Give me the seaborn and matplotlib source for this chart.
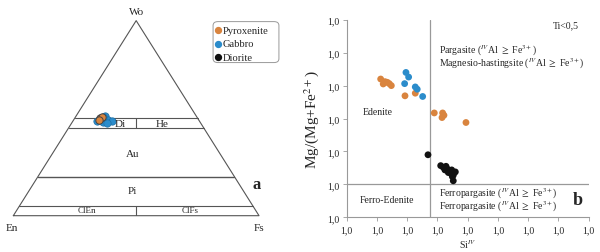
import numpy as np
import pandas as pd
import seaborn as sns
import matplotlib.pyplot as plt
from matplotlib.ticker import FixedLocator, FuncFormatter
from matplotlib.patches import FancyBboxPatch

sns.set_style("white")
plt.rcParams['font.family'] = ['Liberation Serif', 'DejaVu Serif']
plt.rcParams['mathtext.fontset'] = 'stix'

# ---- colours
rock_colors = {'Pyroxenite': '#D9843E', 'Gabbro': '#2B8CCB', 'Diorite': '#111111'}

# ---- (a) pyroxene quadrilateral data, Wo and Fs fractions
pyx_rock = ['Pyroxenite', 'Pyroxenite', 'Pyroxenite',
            'Gabbro', 'Gabbro', 'Gabbro', 'Gabbro', 'Gabbro', 'Gabbro', 'Gabbro']
pyx_wo = [0.500, 0.505, 0.493, 0.487, 0.513, 0.492, 0.484, 0.479, 0.475, 0.506]
pyx_fs = [0.103, 0.107, 0.102, 0.098, 0.116, 0.140, 0.158, 0.124, 0.142, 0.112]

# ---- (b) amphibole data
amp_rock = (['Pyroxenite'] * 13 + ['Gabbro'] * 6 + ['Diorite'] * 15)
amp_si = [5.781, 5.802, 5.817, 5.836, 5.852, 5.869, 5.982, 6.067, 6.224, 6.293, 6.304, 6.288, 6.486,
          5.990, 6.012, 5.979, 6.067, 6.083, 6.128,
          6.172, 6.277, 6.298, 6.321, 6.331, 6.348, 6.368, 6.389, 6.381, 6.360, 6.340, 6.381,
          6.398, 6.312, 6.373]
amp_mg = [0.820, 0.805, 0.812, 0.810, 0.806, 0.800, 0.769, 0.777, 0.717, 0.717, 0.710, 0.703, 0.688,
          0.840, 0.826, 0.806, 0.796, 0.789, 0.767,
          0.590, 0.557, 0.552, 0.555, 0.547, 0.541, 0.544, 0.536, 0.528, 0.534, 0.536, 0.511,
          0.538, 0.544, 0.524]
si_ticks = [5.5, 5.75, 6.0, 6.25, 6.5, 6.75, 7.0, 7.25, 7.5]
mg_ticks = [0.4, 0.5, 0.6, 0.7, 0.8, 0.9, 1.0]
si_split = 6.19
mg_split = 0.5


def tern(wo, fs):
    wo = np.asarray(wo)
    fs = np.asarray(fs)
    return fs + wo / 2, wo


fig = plt.figure(figsize=(6, 2.53), dpi=100)

# ===================== panel a =====================
axa = fig.add_axes([0.0222, 0.1435, 0.4095, 0.771])
axa.set_xlim(0, 1)
axa.set_ylim(0, 1)
axa.axis('off')
lc = '#555555'
axa.plot([0, 0.5, 1, 0], [0, 1, 0, 0], color=lc, lw=0.8, clip_on=False)
for wo in [0.5, 0.45, 0.2, 0.05]:
    x0, _ = tern(wo, 0)
    x1, _ = tern(wo, 1 - wo)
    axa.plot([x0, x1], [wo, wo], color=lc, lw=0.8 if wo != 0.2 else 1.0)
axa.plot([0.5, 0.5], [0.45, 0.5], color=lc, lw=0.8)
axa.plot([0.5, 0.5], [0.0, 0.05], color=lc, lw=0.8)

px, py = tern(pyx_wo, pyx_fs)
df_a = pd.DataFrame({'x': px, 'y': py, 'rock': pyx_rock})
sns.scatterplot(data=df_a[df_a.rock == 'Gabbro'], x='x', y='y', color=rock_colors['Gabbro'],
                s=28, edgecolor='#1d6fa5', linewidth=0.5, ax=axa, legend=False, zorder=3)
sns.scatterplot(data=df_a[df_a.rock == 'Pyroxenite'], x='x', y='y', color=rock_colors['Pyroxenite'],
                s=28, edgecolor='#444444', linewidth=0.7, ax=axa, legend=False, zorder=4)

fs_t = 8
axa.text(0.435, 0.475, 'Di', fontsize=fs_t, ha='center', va='center')
axa.text(0.605, 0.475, 'He', fontsize=fs_t, ha='center', va='center')
axa.text(0.487, 0.32, 'Au', fontsize=fs_t, ha='center', va='center')
axa.text(0.483, 0.13, 'Pi', fontsize=fs_t, ha='center', va='center')
axa.text(0.30, 0.028, 'ClEn', fontsize=6.5, ha='center', va='center')
axa.text(0.72, 0.028, 'ClFs', fontsize=6.5, ha='center', va='center')
axa.text(0.5, 1.045, 'Wo', fontsize=fs_t, ha='center', va='center')
axa.text(-0.005, -0.06, 'En', fontsize=fs_t, ha='center', va='center')
axa.text(1.0, -0.06, 'Fs', fontsize=fs_t, ha='center', va='center')
axa.text(0.99, 0.165, 'a', fontsize=12, fontweight='bold', ha='center', va='center')

# legend box
box = FancyBboxPatch((0.813, 0.785), 0.268, 0.21, boxstyle='round,pad=0,rounding_size=0.02',
                     transform=axa.transAxes, facecolor='white', edgecolor='#999999',
                     lw=0.7, clip_on=False)
axa.add_patch(box)
for i, name in enumerate(['Pyroxenite', 'Gabbro', 'Diorite']):
    yy = 0.95 - i * 0.069
    axa.scatter([0.835], [yy], s=18, color=rock_colors[name], clip_on=False, zorder=5)
    axa.text(0.852, yy, name, fontsize=7.6, ha='left', va='center')

# ===================== panel b =====================
axb = fig.add_axes([0.5778, 0.137, 0.4033, 0.781])
df_b = pd.DataFrame({'si': amp_si, 'mg': amp_mg, 'rock': amp_rock})
sns.scatterplot(data=df_b, x='si', y='mg', hue='rock', palette=rock_colors, s=24,
                edgecolor='none', ax=axb, legend=False, zorder=3)
axb.set_xlim(si_ticks[0], si_ticks[-1])
axb.set_ylim(mg_ticks[0], mg_ticks[-1])
axb.axvline(si_split, color='#999999', lw=0.9, zorder=1)
axb.axhline(mg_split, color='#999999', lw=0.9, zorder=1)

axb.xaxis.set_major_locator(FixedLocator(si_ticks))
axb.yaxis.set_major_locator(FixedLocator(mg_ticks))
fmt = FuncFormatter(lambda v, p: '1,0')
axb.xaxis.set_major_formatter(fmt)
axb.yaxis.set_major_formatter(fmt)
axb.tick_params(axis='both', labelsize=7, length=3, width=0.6, color='#999999', direction='out',
                bottom=True, left=True, pad=2.5)
for side in ['top', 'right']:
    axb.spines[side].set_visible(False)
for side in ['left', 'bottom']:
    axb.spines[side].set_color('#999999')
    axb.spines[side].set_linewidth(0.8)

axb.set_xlabel('Si$^{IV}$', fontsize=7, labelpad=2)
axb.set_ylabel('Mg/(Mg+Fe$^{2+}$)', fontsize=11, labelpad=4)

ft = 7.0
axb.text(7.42, 0.985, 'Ti<0,5', fontsize=ft, ha='right', va='center')
axb.text(6.26, 0.91, 'Pargasite ($^{IV}$Al $\\geq$ Fe$^{3+}$)', fontsize=ft, ha='left', va='center')
axb.text(6.26, 0.87, 'Magnesio-hastingsite ($^{IV}$Al $\\geq$ Fe$^{3+}$)', fontsize=ft, ha='left', va='center')
axb.text(5.63, 0.72, 'Edenite', fontsize=ft, ha='left', va='center')
axb.text(5.61, 0.455, 'Ferro-Edenite', fontsize=ft, ha='left', va='center')
axb.text(6.26, 0.475, 'Ferropargasite ($^{IV}$Al $\\geq$ Fe$^{3+}$)', fontsize=ft, ha='left', va='center')
axb.text(6.26, 0.434, 'Ferropargasite ($^{IV}$Al $\\geq$ Fe$^{3+}$)', fontsize=ft, ha='left', va='center')
axb.text(7.41, 0.453, 'b', fontsize=13, fontweight='bold', ha='center', va='center')

fig.savefig('out.png', dpi=100)
